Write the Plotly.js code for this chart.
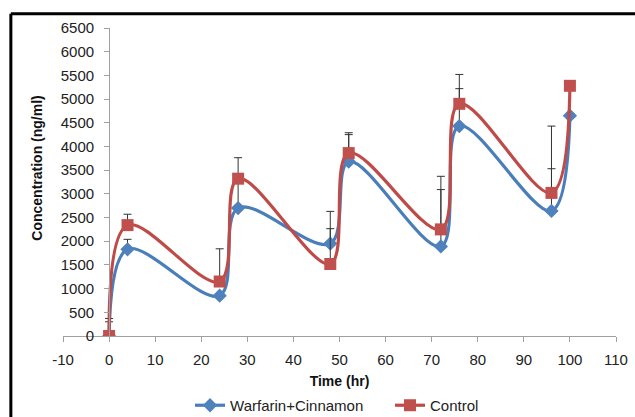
<!DOCTYPE html>
<html>
<head>
<meta charset="utf-8">
<script src="https://cdn.plot.ly/plotly-3.0.1.min.js"></script>
<style>
  html, body { margin: 0; padding: 0; background: #fff; }
  #chart { width: 635px; height: 417px; }
</style>
</head>
<body>
<div id="chart"></div>
<script>
// Data
const timeHr = [0, 4, 24, 28, 48, 52, 72, 76, 96, 100];
const warfarinCinnamon = [0, 1830, 850, 2700, 1950, 3680, 1890, 4430, 2640, 4650];
const warfarinCinnamonErr = [300, 210, 0, 600, 315, 570, 1200, 790, 890, 0];
const control = [0, 2340, 1150, 3320, 1520, 3860, 2250, 4900, 3020, 5280];
const controlErr = [370, 230, 690, 443, 1110, 430, 1120, 620, 1410, 0];
const xTicks = [-10, 0, 10, 20, 30, 40, 50, 60, 70, 80, 90, 100, 110];
const yTicks = [0, 500, 1000, 1500, 2000, 2500, 3000, 3500, 4000, 4500, 5000, 5500, 6000, 6500];
const xTitle = 'Time (hr)';
const yTitle = 'Concentration (ng/ml)';

const FONT = "Liberation Sans, Arial, sans-serif";
const zeros = timeHr.map(() => 0);

const traces = [
  {
    x: timeHr, y: warfarinCinnamon, name: 'Warfarin+Cinnamon',
    type: 'scatter', mode: 'lines+markers',
    line: { color: '#4A7EBB', width: 3.2, shape: 'spline', smoothing: 1 },
    marker: { symbol: 'diamond', size: 11, color: '#4F81BD', line: { color: '#4F81BD', width: 0 } },
    error_y: { type: 'data', symmetric: false, array: warfarinCinnamonErr, arrayminus: zeros,
               color: '#333', thickness: 1, width: 4 }
  },
  {
    x: timeHr, y: control, name: 'Control',
    type: 'scatter', mode: 'lines+markers',
    line: { color: '#BE4B48', width: 3.2, shape: 'spline', smoothing: 1 },
    marker: { symbol: 'square', size: 12, color: '#C0504D', line: { color: '#C0504D', width: 0 } },
    error_y: { type: 'data', symmetric: false, array: controlErr, arrayminus: zeros,
               color: '#333', thickness: 1, width: 4 }
  }
];

const xl = -0.0943, yt = 1.046;
const layout = {
  width: 635, height: 417,
  paper_bgcolor: '#fff', plot_bgcolor: '#fff',
  margin: { l: 63, r: 19, t: 28, b: 81, pad: 0, autoexpand: false },
  font: { family: FONT, size: 15, color: '#222' },
  showlegend: true,
  legend: {
    orientation: 'h', x: 0.2297, xanchor: 'left', y: -0.172, yanchor: 'top',
    font: { family: FONT, size: 15, color: '#222' },
    itemwidth: 30, tracegroupgap: 0,
    entrywidth: 155, entrywidthmode: 'pixels'
  },
  xaxis: {
    range: [-10, 110], tickvals: xTicks, ticktext: xTicks.map(String),
    showgrid: false, zeroline: false, automargin: false,
    showline: true, linecolor: '#A0A0A0', linewidth: 1,
    ticks: 'outside', ticklen: 5, tickcolor: '#A0A0A0', ticklabelstandoff: 5,
    tickfont: { family: FONT, size: 15, color: '#222' },
    title: { text: '<b>' + xTitle + '</b>', font: { family: FONT, size: 14, color: '#111' }, standoff: 9 }
  },
  yaxis: {
    range: [0, 6500], tickvals: yTicks, ticktext: yTicks.map(String),
    anchor: 'free', position: 10 / 120, automargin: false,
    showgrid: false, zeroline: false,
    showline: true, linecolor: '#A0A0A0', linewidth: 1,
    ticks: 'outside', ticklen: 5, tickcolor: '#A0A0A0', ticklabelstandoff: 7,
    tickfont: { family: FONT, size: 15, color: '#222' }
  },
  annotations: [
    { xref: 'paper', yref: 'paper', x: -0.046, y: 0.545, xanchor: 'center', yanchor: 'middle',
      text: '<b>' + yTitle + '</b>', textangle: -90, showarrow: false,
      font: { family: FONT, size: 14, color: '#111' } }
  ],
  shapes: [
    { type: 'line', xref: 'paper', yref: 'paper', x0: xl, x1: xl, y0: -0.4, y1: yt,
      line: { color: '#000', width: 3 } },
    { type: 'line', xref: 'paper', yref: 'paper', x0: xl, x1: 1.1, y0: yt, y1: yt,
      line: { color: '#000', width: 3 } }
  ]
};

Plotly.newPlot('chart', traces, layout, { displayModeBar: false, staticPlot: true });
</script>
</body>
</html>
